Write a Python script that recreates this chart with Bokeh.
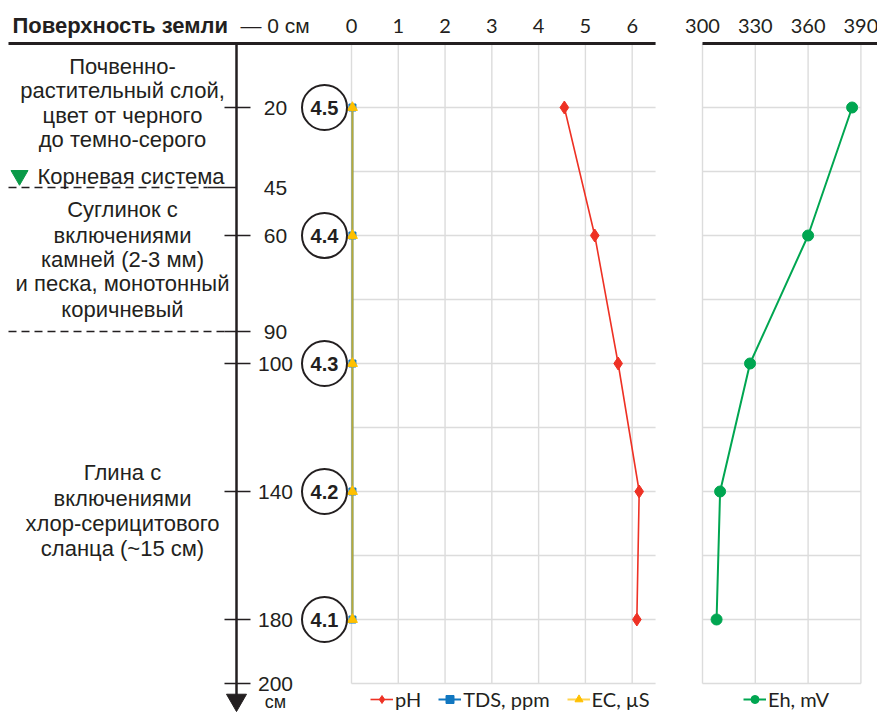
from bokeh.plotting import figure
from bokeh.models import Range1d, Legend, LegendItem, ColumnDataSource
from bokeh.core.properties import value
from bokeh.embed import file_html
from bokeh.resources import INLINE

# ---------------- data ----------------
depth_cm = [20, 60, 100, 140, 180]
sample_ids = ["4.5", "4.4", "4.3", "4.2", "4.1"]
ph_values = [4.55, 5.2, 5.7, 6.15, 6.1]
tds_ppm = [0.02, 0.02, 0.02, 0.02, 0.02]
ec_us = [0.02, 0.02, 0.02, 0.02, 0.02]
eh_mv = [385, 360, 327, 310, 308]

ph_ticks = [0, 1, 2, 3, 4, 5, 6]
eh_ticks = [300, 330, 360, 390]
depth_ticks = [20, 60, 100, 140, 180, 200]
boundary_depths = [45, 90]
grid_depths = [20, 40, 60, 80, 100, 120, 140, 160, 180, 200]
ph_max = 6.5
eh_min, eh_max = 300, 390
depth_max = 200

header_bold = "Поверхность земли"
header_rest = "— 0 см"
depth_unit = "см"
roots_label = "Корневая система"
layer_soil = ["Почвенно-", "растительный слой,", "цвет от черного", "до темно-серого"]
layer_loam = ["Суглинок с", "включениями", "камней (2-3 мм)", "и песка, монотонный", "коричневый"]
layer_clay = ["Глина с", "включениями", "хлор-серицитового", "сланца (~15 см)"]

# ---------------- layout (pixels from figure's top-left) ----------------
W, H = 877, 712
D0_Y, D_PX = 43.0, 3.2         # depth 0 position, px per cm
PH0_X, PH_PX = 351.0, 46.78    # pH 0 position, px per unit
EH0_X, EH_PX = 702.0, 1.76     # 300 mV position, px per mV
REF_PX = 3.25                  # text rows given in reference pixels


def row(y):
    """reference pixel row -> depth coordinate"""
    return (y - D0_Y) / REF_PX


INK = "#231f20"
GRID = "#dcdcdc"
RED = "#ee3124"
BLUE = "#1177c0"
YELLOW = "#ffc000"
GREEN = "#00a651"
SANS = value("Liberation Sans")
CAL = value("Lato")

x_page = Range1d(0, W)
y_page = Range1d(H, 0)
y_depth = Range1d((H - D0_Y) / D_PX, (0 - D0_Y) / D_PX)
x_ph = Range1d((0 - PH0_X) / PH_PX, (W - PH0_X) / PH_PX)
x_eh = Range1d(eh_min + (0 - EH0_X) / EH_PX, eh_min + (W - EH0_X) / EH_PX)

p = figure(width=W, height=H, x_range=x_page, y_range=y_depth,
           output_backend="svg", toolbar_location=None, tools="",
           x_axis_location=None, y_axis_location=None, min_border=0)
p.grid.visible = False
p.outline_line_color = None
p.background_fill_color = "white"
p.border_fill_color = "white"
p.extra_x_ranges = {"ph": x_ph, "eh": x_eh}
p.extra_y_ranges = {"py": y_page}

n_ph, n_eh, n_g = len(ph_ticks), len(eh_ticks), len(grid_depths)

# grids
p.segment(x0=ph_ticks, y0=[0] * n_ph, x1=ph_ticks, y1=[depth_max] * n_ph,
          x_range_name="ph", line_color=GRID, line_width=1.4)
p.segment(x0=[0] * n_g, y0=grid_depths, x1=[ph_max] * n_g, y1=grid_depths,
          x_range_name="ph", line_color=GRID, line_width=1.4)
p.segment(x0=eh_ticks, y0=[0] * n_eh, x1=eh_ticks, y1=[depth_max] * n_eh,
          x_range_name="eh", line_color=GRID, line_width=1.4)
p.segment(x0=[eh_min] * n_g, y0=grid_depths, x1=[eh_max] * n_g, y1=grid_depths,
          x_range_name="eh", line_color=GRID, line_width=1.4)

# top (surface) lines
p.segment(x0=[x_ph.start + 8 / PH_PX], y0=[0], x1=[ph_max], y1=[0], x_range_name="ph",
          line_color=INK, line_width=3)
p.segment(x0=[eh_min], y0=[0], x1=[x_eh.end], y1=[0], x_range_name="eh",
          line_color=INK, line_width=3)

# top tick labels
p.text(x=ph_ticks, y=[25] * n_ph, text=[str(t) for t in ph_ticks], x_range_name="ph",
       y_range_name="py", text_font=CAL, text_font_size="20px", text_color=INK,
       text_align="center", text_baseline="middle")
p.text(x=eh_ticks, y=[25] * n_eh, text=[str(t) for t in eh_ticks], x_range_name="eh",
       y_range_name="py", text_font=CAL, text_font_size="20px", text_color=INK,
       text_align="center", text_baseline="middle")

# data
src = ColumnDataSource(dict(depth=depth_cm, ph=ph_values, tds=tds_ppm, ec=ec_us, eh=eh_mv))
tds_line = p.line("tds", "depth", source=src, x_range_name="ph", line_color=BLUE, line_width=2)
tds_pts = p.scatter("tds", "depth", source=src, x_range_name="ph", marker="square", size=7,
                    fill_color=BLUE, line_color=BLUE)
ec_line = p.line("ec", "depth", source=src, x_range_name="ph", line_color=YELLOW,
                 line_width=2, line_alpha=0.7)
ec_pts = p.scatter("ec", "depth", source=src, x_range_name="ph", marker="triangle", size=10,
                   fill_color=YELLOW, line_color=YELLOW)
ph_line = p.line("ph", "depth", source=src, x_range_name="ph", line_color=RED, line_width=1.6)
ph_pts = p.scatter("ph", "depth", source=src, x_range_name="ph", marker="diamond", size=13,
                   fill_color=RED, line_color=RED)
eh_line = p.line("eh", "depth", source=src, x_range_name="eh", line_color=GREEN, line_width=2)
eh_pts = p.scatter("eh", "depth", source=src, x_range_name="eh", marker="circle", size=11,
                   fill_color=GREEN, line_color=GREEN)

# sample circles
n_s = len(depth_cm)
p.scatter(x=[324] * n_s, y=depth_cm, marker="circle", size=45, fill_color="white",
          line_color=INK, line_width=2)
p.text(x=[324] * n_s, y=depth_cm, text=sample_ids, text_font=SANS, text_font_style="bold",
       text_font_size="20px", text_color=INK, text_align="center", text_baseline="middle")

# depth axis
p.segment(x0=[236], y0=[D0_Y], x1=[236], y1=[696], y_range_name="py", line_color=INK, line_width=2.5)
p.scatter(x=[236], y=[699.5], y_range_name="py", marker="inverted_triangle", size=20,
          fill_color=INK, line_color=INK)
tick_d = depth_ticks + [boundary_depths[1]]
p.segment(x0=[224] * len(tick_d), y0=tick_d, x1=[250] * len(tick_d), y1=tick_d,
          line_color=INK, line_width=1.5)
lab_d = depth_ticks + boundary_depths
p.text(x=[275] * len(lab_d), y=lab_d, text=[str(d) for d in lab_d], text_font=SANS,
       text_font_size="21px", text_color=INK, text_align="center", text_baseline="middle")
p.text(x=[275], y=[701], y_range_name="py", text=[depth_unit], text_font=SANS,
       text_font_size="18px", text_color=INK, text_align="center", text_baseline="middle")

# layer boundaries
p.segment(x0=[8, 8], y0=boundary_depths, x1=[207, 224], y1=boundary_depths,
          line_color=INK, line_width=1.3, line_dash="8 5")
p.segment(x0=[207], y0=[boundary_depths[0]], x1=[236], y1=[boundary_depths[0]],
          line_color=INK, line_width=1.3)

# header
p.text(x=[12], y=[25], y_range_name="py", text=[header_bold], text_font=SANS,
       text_font_style="bold", text_font_size="22px", text_color=INK,
       text_align="left", text_baseline="middle")
p.text(x=[240], y=[25], y_range_name="py", text=[header_rest], text_font=SANS,
       text_font_size="21px", text_color=INK, text_align="left", text_baseline="middle")


# layer descriptions
def block(lines, ys):
    p.text(x=[122] * len(lines), y=[row(y) for y in ys], text=lines, text_font=SANS,
           text_font_size="22px", text_color=INK, text_align="center", text_baseline="middle")


block(layer_soil, [66, 91, 116, 140])
block(layer_loam, [212, 238, 262, 287, 313])
block(layer_clay, [479, 505, 531, 556])

p.scatter(x=[19], y=[row(177)], marker="inverted_triangle", size=17,
          fill_color="#0a9a48", line_color="#0a9a48")
p.text(x=[37], y=[row(178)], text=[roots_label], text_font=SANS,
       text_font_size="22px", text_color=INK, text_align="left", text_baseline="middle")

# legends
common = dict(orientation="horizontal", glyph_width=23, glyph_height=20, label_standoff=2,
              spacing=17, padding=0, margin=0, background_fill_alpha=0, border_line_alpha=0,
              label_text_font="Lato", label_text_font_size="20px", label_text_color=INK)
leg1 = Legend(items=[LegendItem(label="pH", renderers=[ph_line, ph_pts]),
                     LegendItem(label="TDS, ppm", renderers=[tds_line, tds_pts]),
                     LegendItem(label="EC, µS", renderers=[ec_line, ec_pts])],
              location=(370, 1), **common)
leg2 = Legend(items=[LegendItem(label="Eh, mV", renderers=[eh_line, eh_pts])],
              location=(743, 1), **common)
p.add_layout(leg1)
p.add_layout(leg2)

open("out.html", "w").write(file_html(p, INLINE))
